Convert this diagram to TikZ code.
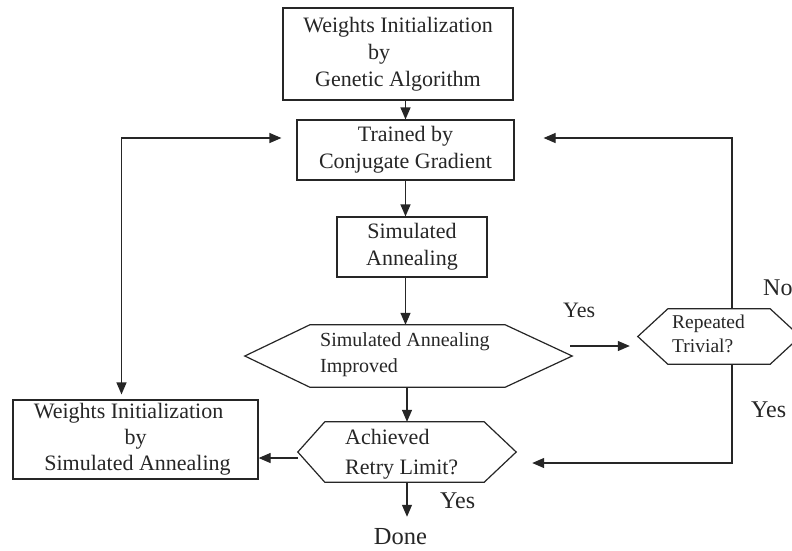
\documentclass[tikz,border=0pt]{standalone}
\usepackage{fontspec}
\setmainfont{Liberation Serif}
\usetikzlibrary{arrows.meta}
\begin{document}
\begin{tikzpicture}[x=1pt,y=-1pt,
  line/.style={line width=1.2pt, draw=black!85},
  box/.style={line, rectangle, inner sep=0pt, align=center, text=black!85, font=\fontsize{22}{27}\selectfont},
  hexbase/.style={rectangle, inner sep=0pt, draw=none},
  hextext/.style={inner sep=0pt, anchor=west, align=left, text=black!85},
  arr/.style={line, -{Triangle[length=12pt,width=10pt]}},
  darr/.style={line, {Triangle[length=12pt,width=10pt]}-{Triangle[length=12pt,width=10pt]}},
  lbl/.style={inner sep=0pt, anchor=base west, text=black!85, font=\fontsize{24}{28}\selectfont}]
\useasboundingbox (0,0) rectangle (792,550);
\fill[white] (0,0) rectangle (792,550);

% boxes
\node[box, minimum width=230pt, minimum height=92pt] (top) at (398,54)
  {Weights Initialization\\by\rule{38pt}{0pt}\\Genetic Algorithm};
\node[box, minimum width=217pt, minimum height=60pt] (trained) at (405.5,150)
  {Trained by\\Conjugate Gradient};
\node[box, minimum width=150pt, minimum height=60pt] (sa) at (412,247)
  {Simulated\\Annealing};
\node[box, minimum width=245pt, minimum height=79pt, font=\fontsize{22}{26}\selectfont] (wisa) at (135.5,439.5)
  {Weights Initialization\rule{14pt}{0pt}\\by\\\rule{4pt}{0pt}Simulated Annealing};

% hexagons
\node[hexbase, minimum width=327pt, minimum height=62pt] (imp) at (408.5,356) {};
\node[hexbase, minimum width=162pt, minimum height=55pt] (rep) at (719,336.5) {};
\node[hexbase, minimum width=218pt, minimum height=60pt] (ach) at (407,452) {};

\draw[line] (imp.west) -- ([xshift=65pt]imp.north west) -- ([xshift=-67pt]imp.north east)
  -- (imp.east) -- ([xshift=-67pt]imp.south east) -- ([xshift=65pt]imp.south west) -- cycle;
\draw[line] (rep.west) -- ([xshift=30pt]rep.north west) -- ([xshift=-30pt]rep.north east)
  -- (rep.east) -- ([xshift=-30pt]rep.south east) -- ([xshift=30pt]rep.south west) -- cycle;
\draw[line] (ach.west) -- ([xshift=27pt]ach.north west) -- ([xshift=-32pt]ach.north east)
  -- (ach.east) -- ([xshift=-32pt]ach.south east) -- ([xshift=27pt]ach.south west) -- cycle;

\node[hextext, font=\fontsize{20}{26}\selectfont] (impt) at (320,354.4)
  {Simulated Annealing\\Improved};
\node[hextext, font=\fontsize{19.5}{24}\selectfont] (rept) at (672,333.4)
  {Repeated\\Trivial?};
\node[hextext, font=\fontsize{22}{30}\selectfont] (acht) at (345,454.7)
  {Achieved\\Retry Limit?};

% labels
\node[lbl, anchor=base, font=\fontsize{24.5}{28}\selectfont] (done) at (400.5,544) {Done};
\node[lbl, font=\fontsize{22}{26}\selectfont] (yes1) at (563,317) {Yes};
\node[lbl] (no) at (763,295) {No};
\node[lbl] (yes2) at (751,417) {Yes};
\node[lbl] (yes3) at (440,508) {Yes};

% connectors
\draw[arr] (top.south -| trained.north) -- (trained.north);
\draw[arr] (trained.south) -- (trained.south |- sa.north);
\draw[arr] (trained.south |- sa.south) -- (trained.south |- imp.north);
\draw[arr] (imp.south -| ach.north) -- (ach.north);
\draw[arr, shorten >=11pt] (ach.south) -- (ach.south |- done.north);
\draw[arr] ([xshift=-2pt,yshift=10pt]imp.east) -- ([xshift=-8pt,yshift=-9.5pt]rep.west);
\draw[arr] ([xshift=13pt]rep.north) |- ([xshift=29pt,yshift=12pt]trained.east);
\draw[arr] ([xshift=13pt]rep.south) |- ([xshift=16pt,yshift=-11pt]ach.east);
\draw[arr] ([yshift=-6pt]ach.west) -- ([yshift=-6pt]ach.west -| wisa.east);
\draw[darr] ([xshift=-14pt,yshift=5pt]wisa.north) |- ([xshift=-15pt,yshift=12pt]trained.west);
\end{tikzpicture}
\end{document}
